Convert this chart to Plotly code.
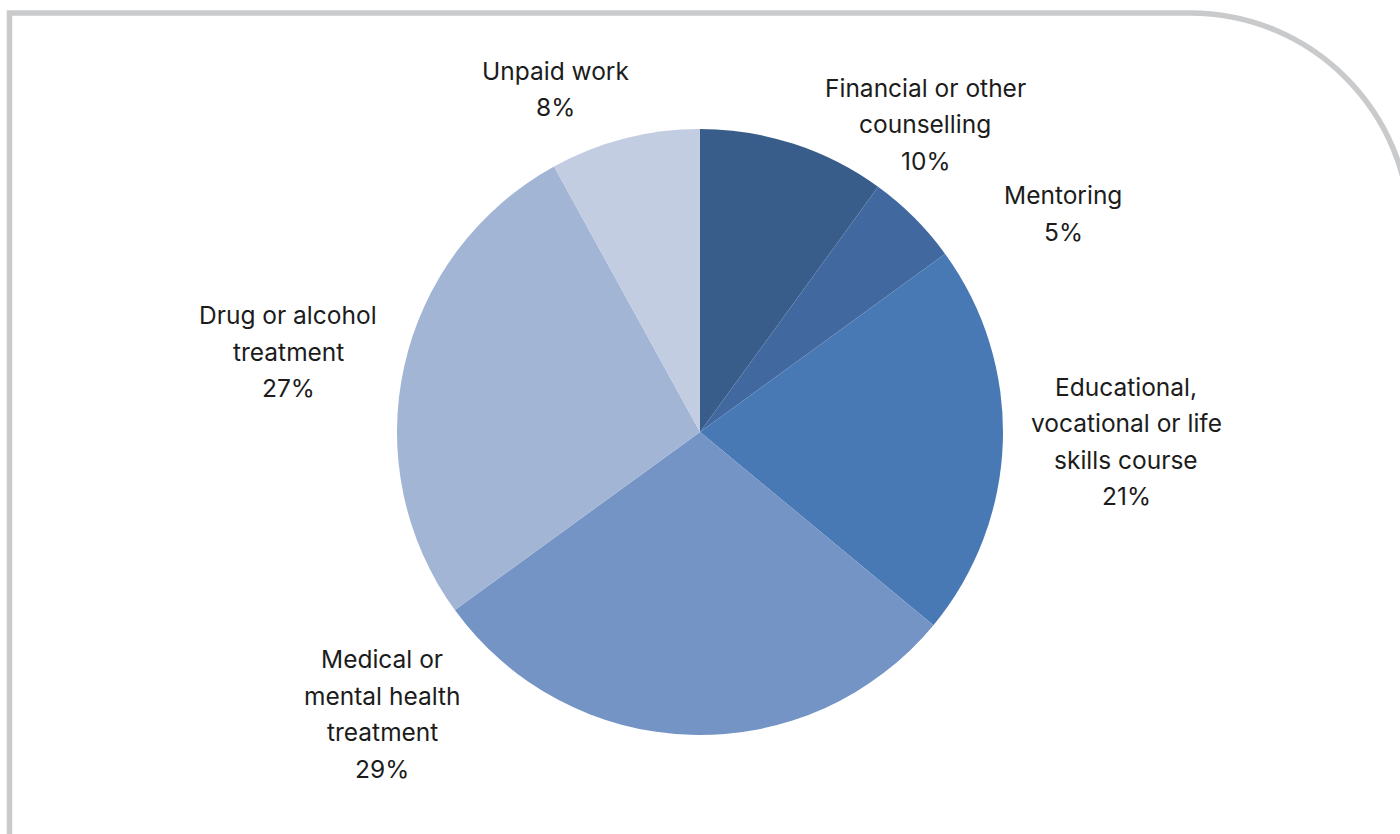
import plotly.graph_objects as go

# Share of participants by type of programme (clockwise from 12 o'clock)
categories = [
    "Financial or other<br>counselling",
    "Mentoring",
    "Educational,<br>vocational or life<br>skills course",
    "Medical or<br>mental health<br>treatment",
    "Drug or alcohol<br>treatment",
    "Unpaid work",
]
shares = [10, 5, 21, 29, 27, 8]
colors = ["#385d8a", "#41699f", "#4979b4", "#7494c5", "#a2b5d5", "#c2cde2"]

W, H = 1400, 834

# Label block centres in pixels (x centre, y of first line)
label_pos = [
    (925, 88),
    (1063, 195),
    (1126, 387),
    (382, 659),
    (288, 315),
    (555, 71),
]
LINE_GAP = 36.5


def px(x):
    return x / W


def py(y):
    return 1 - y / H


# Pie geometry: centre (700, 432), radius 303
cx, cy, r = 700, 432, 303

fig = go.Figure(
    go.Pie(
        labels=[c.replace("<br>", " ") for c in categories],
        values=shares,
        sort=False,
        direction="clockwise",
        rotation=0,
        marker=dict(colors=colors, line=dict(width=0)),
        textinfo="none",
        hoverinfo="label+percent",
        showlegend=False,
        domain=dict(x=[px(cx - r), px(cx + r)], y=[py(cy + r), py(cy - r)]),
    )
)

annotations = []
for cat, val, (lx, ly) in zip(categories, shares, label_pos):
    lines = cat.split("<br>") + [f"{val}%"]
    for i, line in enumerate(lines):
        annotations.append(
            dict(
                x=px(lx),
                y=py(ly + i * LINE_GAP),
                xref="paper",
                yref="paper",
                text=line,
                showarrow=False,
                xanchor="center",
                yanchor="middle",
                font=dict(family="Inter, sans-serif", size=24.5, color="#1c1c1c"),
            )
        )

# Grey frame: left edge, top edge, rounded top-right corner
k = 0.5523
arc_cx, arc_cy, arc_r = 1190, 233, 220
frame_path = (
    f"M {px(9.5)},{py(H + 5)} "
    f"L {px(9.5)},{py(13)} "
    f"L {px(arc_cx)},{py(13)} "
    f"C {px(arc_cx + k * arc_r)},{py(13)} "
    f"{px(arc_cx + arc_r)},{py(arc_cy - k * arc_r)} "
    f"{px(arc_cx + arc_r)},{py(arc_cy)}"
)

fig.update_layout(
    width=W,
    height=H,
    margin=dict(l=0, r=0, t=0, b=0),
    paper_bgcolor="white",
    plot_bgcolor="white",
    annotations=annotations,
    shapes=[
        dict(
            type="path",
            path=frame_path,
            xref="paper",
            yref="paper",
            line=dict(color="#c9cacc", width=5.5),
            layer="below",
        )
    ],
)

fig.write_html("out.html")
